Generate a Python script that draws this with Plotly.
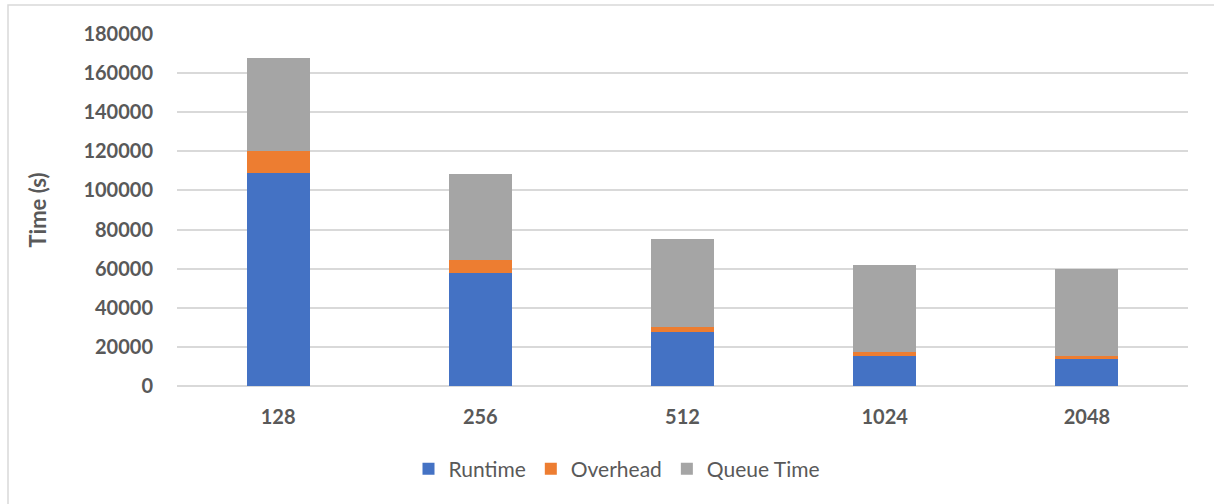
import plotly.graph_objects as go

# Node counts on the x axis
categories = ["128", "256", "512", "1024", "2048"]

# Stacked time components, in seconds
runtime = [109000, 58000, 27800, 15500, 13800]
overhead = [11000, 6200, 2500, 1700, 1500]
queue_time = [47700, 44400, 44700, 44500, 44700]

y_ticks = [0, 20000, 40000, 60000, 80000, 100000, 120000, 140000, 160000, 180000]

W, H = 1214, 504
L, R, T, B = 177, 26, 34, 118
plot_w = W - L - R
plot_h = H - T - B

font_family = "Lato, 'Open Sans', sans-serif"
text_color = "#595959"
grid_color = "#d9d9d9"

fig = go.Figure()
for name, vals, color in [
    ("Runtime", runtime, "#4472C4"),
    ("Overhead", overhead, "#ED7D31"),
    ("Queue Time", queue_time, "#A5A5A5"),
]:
    fig.add_trace(go.Bar(
        x=categories, y=vals, name=name,
        marker=dict(color=color, line=dict(width=0)),
    ))


def px_x(p):
    return (p - L) / plot_w


def px_y(p):
    return (H - B - p) / plot_h


# Outer chart frame (runs off the right and bottom edges)
fig.add_shape(
    type="rect", xref="paper", yref="paper",
    x0=px_x(8), x1=px_x(1222), y0=px_y(5), y1=px_y(512),
    line=dict(color=grid_color, width=1.5), fillcolor="rgba(0,0,0,0)",
    layer="below",
)

fig.update_layout(
    width=W, height=H,
    margin=dict(l=L, r=R, t=T, b=B),
    barmode="stack",
    bargap=0.688,
    plot_bgcolor="white",
    paper_bgcolor="white",
    font=dict(family=font_family, color=text_color),
    showlegend=True,
    legend=dict(
        orientation="h",
        x=px_x(617), xanchor="center",
        y=px_y(469), yanchor="middle",
        font=dict(size=21, color=text_color, family=font_family),
        traceorder="normal",
        itemclick=False,
    ),
    xaxis=dict(
        type="category",
        showgrid=False,
        showline=False,
        zeroline=False,
        ticks="outside", ticklen=13, tickcolor="rgba(0,0,0,0)",
        tickfont=dict(size=20, color=text_color, family=font_family, weight="bold"),
    ),
    yaxis=dict(
        range=[0, 180000],
        tickvals=y_ticks,
        ticktext=[str(v) for v in y_ticks],
        showgrid=True, gridcolor=grid_color, gridwidth=1.5,
        zeroline=True, zerolinecolor=grid_color, zerolinewidth=1.5,
        showline=False,
        ticks="outside", ticklen=19, tickcolor="rgba(0,0,0,0)",
        tickfont=dict(size=20, color=text_color, family=font_family, weight="bold"),
        title=dict(
            text="Time (s)",
            font=dict(size=22, color=text_color, family=font_family, weight="bold"),
            standoff=30,
        ),
    ),
)

fig.write_html("out.html")
